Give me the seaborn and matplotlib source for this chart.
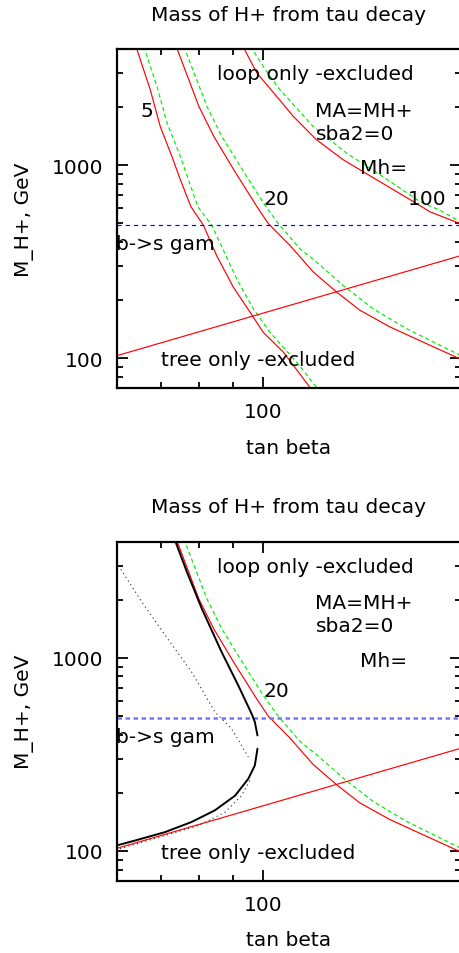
import numpy as np
import pandas as pd
import matplotlib
matplotlib.use("Agg")
import matplotlib.pyplot as plt
from matplotlib.ticker import FixedLocator, FixedFormatter, LogLocator, NullFormatter
import seaborn as sns

# ---- exclusion contours: tan(beta) vs charged Higgs mass M_H+ [GeV] ----
# loop-level contours (red) and their shifted companions (green dashed), labelled by Mh
red5_tb = [64.1, 67.4, 69.8, 72.7, 74.9, 77.7, 81.2, 85.0, 90.1, 96.7, 100.1, 107.4, 117.8]
red5_mh = [4132, 2463, 1588, 1110, 840, 610, 488, 341, 234, 163, 136, 107.4, 70.7]
green5_tb = [65.9, 69.0, 71.5, 74.9, 79.6, 83.6, 91.2, 96.7, 102.5, 112.5, 120.6]
green5_mh = [4132, 2563, 1652, 1110, 610, 488, 258, 180, 136, 95.3, 70.7]

red20_tb = [73.8, 79.9, 84.2, 90.3, 97.9, 101.9, 109.9, 119.2, 129.4, 140.4, 156.0, 175.2, 200.0]
red20_mh = [4132, 2017, 1409, 946, 610, 498, 384, 280, 220, 177, 145, 121, 98.5]
green20_tb = [75.8, 82.2, 86.6, 92.4, 100.2, 105.5, 113.8, 120.6, 132.4, 147.1, 165.3, 200.0]
green20_mh = [4132, 2017, 1409, 985, 635, 498, 369, 315, 238, 180, 142, 103]

red100_tb = [93.2, 97.9, 104.9, 111.2, 120.6, 132.4, 148.9, 169.2, 179.4, 200.0]
red100_mh = [4132, 3004, 2273, 1790, 1355, 1067, 840, 648, 573, 496]
green100_tb = [95.7, 100.8, 106.1, 119.2, 134.0, 150.6, 173.2, 185.8, 200.0]
green100_mh = [4132, 3128, 2463, 1588, 1154, 892, 648, 584, 506]

# tree-level bound and b -> s gamma limit
tree_tb = [60, 200]
tree_mh = [103, 340]
bsgam_mh = 490

# combined (tree + loop) contour, solid black: upper and lower branches
comb_up_tb = [73.3, 76.6, 80.7, 86.5, 91.7, 96.1, 97.2, 98.1]
comb_up_mh = [4159, 2793, 1801, 1073, 720, 513, 465, 396]
comb_lo_tb = [98.1, 97.2, 95.0, 90.7, 84.5, 77.9, 71.0, 63.9, 59.6]
comb_lo_mh = [338, 277, 236, 193, 162, 141, 125, 113, 106]

# combined contour, dotted black: upper and lower branches
dot_up_tb = [60.3, 65.4, 71.0, 77.9, 84.5, 89.6, 92.8, 95.0]
dot_up_mh = [3000, 1951, 1309, 845, 524, 429, 351, 306]
dot_lo_tb = [95.5, 92.8, 87.5, 79.7, 71.0, 63.9, 60.3]
dot_lo_mh = [231, 193, 158, 135, 120, 108, 102]

RED = "#ff0000"
GREEN = "#00ee00"
FS = 14.5

sns.set_theme(style="ticks")
plt.rcParams["font.family"] = ["DejaVu Sans"]
plt.rcParams.update({
    "text.color": "black",
    "axes.labelcolor": "black",
    "xtick.color": "black",
    "ytick.color": "black",
    "axes.edgecolor": "black",
})


def curve(ax, tb, mh, **kw):
    df = pd.DataFrame({"tb": tb, "mh": mh})
    sns.lineplot(data=df, x="tb", y="mh", ax=ax, sort=False, estimator=None, **kw)


def frame(ax):
    ax.set_xscale("log")
    ax.set_yscale("log")
    ax.set_xlim(60, 200)
    ax.set_ylim(70, 4000)
    ax.xaxis.set_major_locator(FixedLocator([100]))
    ax.xaxis.set_major_formatter(FixedFormatter(["100"]))
    ax.xaxis.set_minor_locator(LogLocator(base=10, subs=np.arange(2, 10), numticks=20))
    ax.xaxis.set_minor_formatter(NullFormatter())
    ax.yaxis.set_major_locator(FixedLocator([100, 1000]))
    ax.yaxis.set_major_formatter(FixedFormatter(["100", "1000"]))
    ax.yaxis.set_minor_locator(LogLocator(base=10, subs=np.arange(2, 10), numticks=20))
    ax.yaxis.set_minor_formatter(NullFormatter())
    ax.tick_params(which="both", direction="in", top=True, right=True,
                   width=1.3, labelsize=FS)
    ax.tick_params(which="major", length=8, pad=10)
    ax.tick_params(which="minor", length=4.5)
    for sp in ax.spines.values():
        sp.set_linewidth(1.6)
        sp.set_color("black")
    ax.grid(False)
    ax.set_title("Mass of H+ from tau decay", fontsize=FS, pad=21)
    ax.set_xlabel("tan beta", fontsize=FS, labelpad=12)
    ax.set_ylabel("M_H+, GeV", fontsize=FS, labelpad=13)


def note(ax, x, y, s):
    ax.text(x, y, s, transform=ax.transAxes, ha="left", va="baseline",
            fontsize=FS, color="black")


fig = plt.figure(figsize=(4.6, 9.54), dpi=100)
ax_top = fig.add_axes([117 / 460, (954 - 389) / 954, 344 / 460, 339 / 954])
ax_bot = fig.add_axes([117 / 460, (954 - 881.7) / 954, 344 / 460, 339.2 / 954])

for ax in (ax_top, ax_bot):
    frame(ax)

# ---- upper panel: loop contours for Mh = 5, 20, 100 ----
for tb, mh in ((red5_tb, red5_mh), (red20_tb, red20_mh), (red100_tb, red100_mh)):
    curve(ax_top, tb, mh, color=RED, linewidth=0.85)
for tb, mh in ((green5_tb, green5_mh), (green20_tb, green20_mh), (green100_tb, green100_mh)):
    curve(ax_top, tb, mh, color=GREEN, linewidth=0.85, linestyle=(0, (3.5, 2.5)))
curve(ax_top, tree_tb, tree_mh, color=RED, linewidth=0.85)
ax_top.axhline(bsgam_mh, color="#0000ff", linewidth=0.85, linestyle=(0, (3.5, 3.5)))

# ---- lower panel: Mh = 20 with combined contours ----
curve(ax_bot, red20_tb, red20_mh, color=RED, linewidth=0.85)
curve(ax_bot, green20_tb, green20_mh, color=GREEN, linewidth=0.85, linestyle=(0, (3.5, 2.5)))
curve(ax_bot, tree_tb, tree_mh, color=RED, linewidth=0.85)
ax_bot.axhline(bsgam_mh, color="#7676ff", linewidth=1.8, linestyle=(0, (1.8, 1.4)))
curve(ax_bot, comb_up_tb, comb_up_mh, color="black", linewidth=1.4)
curve(ax_bot, comb_lo_tb, comb_lo_mh, color="black", linewidth=1.4)
curve(ax_bot, dot_up_tb, dot_up_mh, color="#222222", linewidth=0.8, linestyle=(0, (1, 3)))
curve(ax_bot, dot_lo_tb, dot_lo_mh, color="#222222", linewidth=0.8, linestyle=(0, (1, 3)))

# ---- annotations ----
for ax in (ax_top, ax_bot):
    note(ax, 0.290, 0.9115, "loop only -excluded")
    note(ax, 0.577, 0.8038, "MA=MH+")
    note(ax, 0.577, 0.7354, "sba2=0")
    note(ax, 0.7064, 0.6342, "Mh=")
    note(ax, 0.4253, 0.5437, "20")
    note(ax, -0.002, 0.41, "b->s gam")
    note(ax, 0.1288, 0.0678, "tree only -excluded")
note(ax_top, 0.0669, 0.8038, "5")
note(ax_top, 0.8468, 0.5437, "100")

fig.savefig("out.png", dpi=100)
